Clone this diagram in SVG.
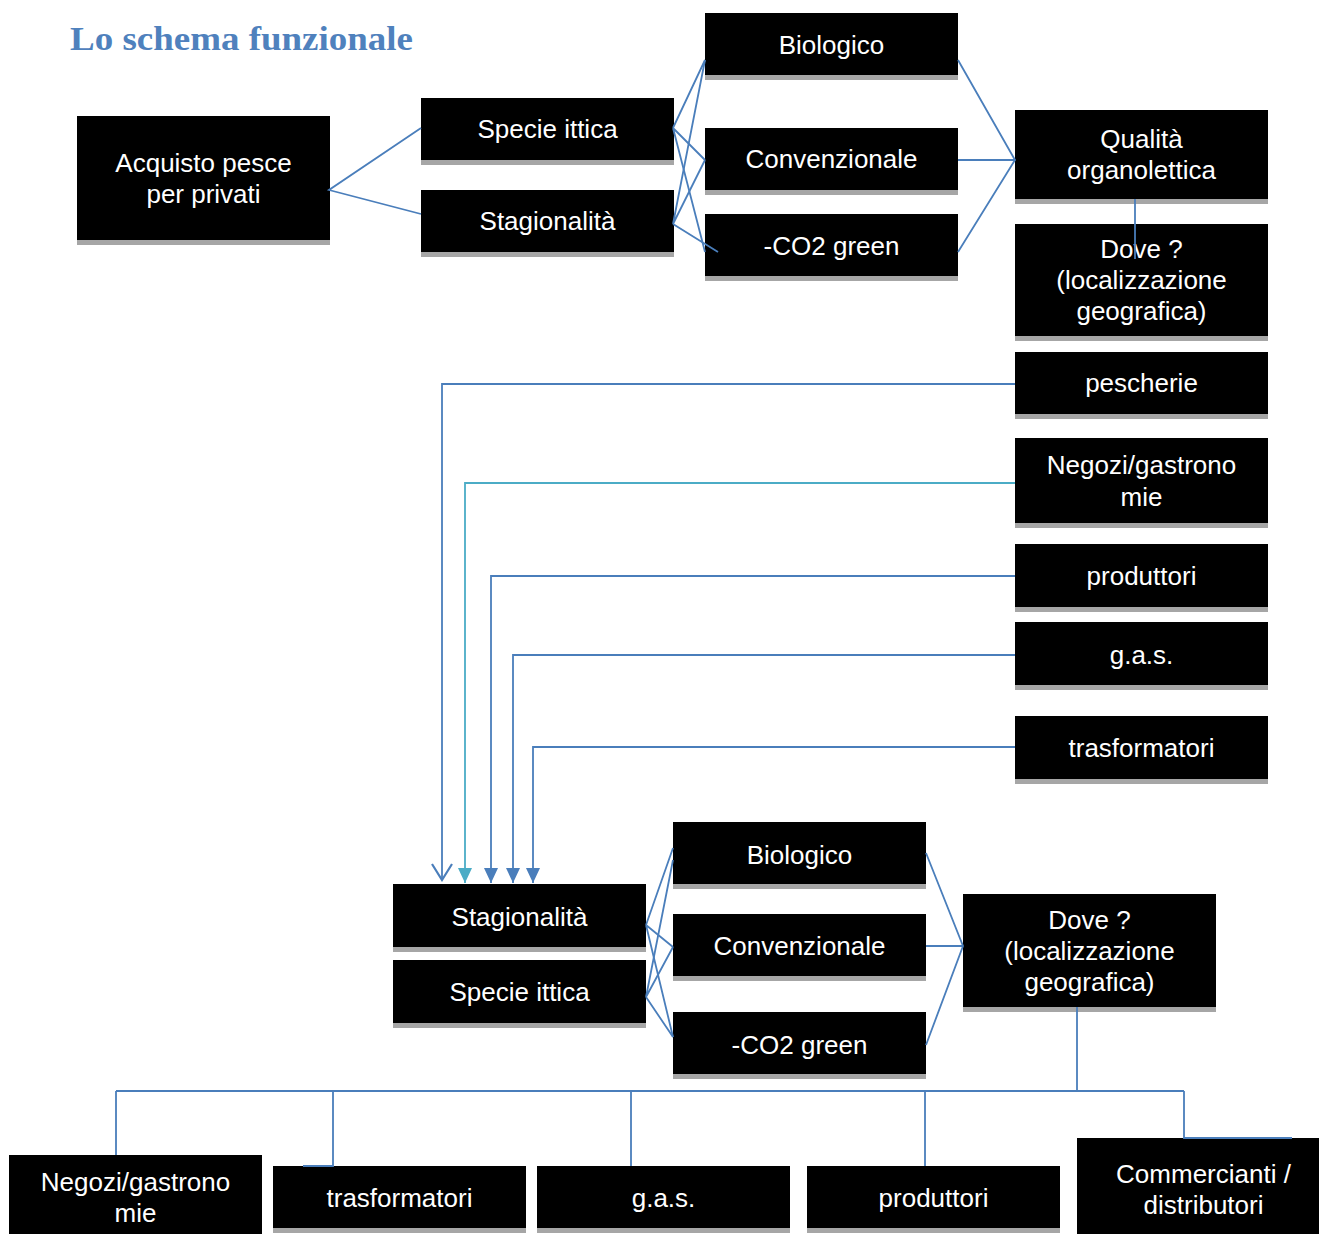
<svg xmlns="http://www.w3.org/2000/svg" width="1319" height="1234" viewBox="0 0 1319 1234">
<style>
.box{fill:#000}
.sh{fill:#A6A6A6}
.t{font-family:"Liberation Sans",Arial,sans-serif;font-size:26px;fill:#fff;text-anchor:middle}
.c{fill:none;stroke:#4A7EBB;stroke-width:1.8}
.ct{fill:none;stroke:#4BACC6;stroke-width:1.8}
.title{font-family:"Liberation Serif","Times New Roman",serif;font-weight:bold;font-size:34px;fill:#4F81BD}
</style>
<defs>
<marker id="tri" markerUnits="userSpaceOnUse" markerWidth="16" markerHeight="16" refX="15" refY="7" orient="auto" viewBox="0 0 16 14">
<path d="M0,0 L15,7 L0,14 z" fill="#4A7EBB"/>
</marker>
<marker id="triT" markerUnits="userSpaceOnUse" markerWidth="16" markerHeight="16" refX="15" refY="7" orient="auto" viewBox="0 0 16 14">
<path d="M0,0 L15,7 L0,14 z" fill="#4BACC6"/>
</marker>
<marker id="vee" markerUnits="userSpaceOnUse" markerWidth="20" markerHeight="24" refX="18" refY="11" orient="auto" viewBox="0 0 20 22">
<path d="M2,1 L18,11 L2,21" fill="none" stroke="#4A7EBB" stroke-width="2.2"/>
</marker>
</defs>
<rect width="1319" height="1234" fill="#fff"/>
<text class="title" x="70" y="50" textLength="343" lengthAdjust="spacingAndGlyphs">Lo schema funzionale</text>

<g id="n_acquisto"><rect class="sh" x="77" y="235" width="253" height="10"/><rect class="box" x="77" y="116" width="253" height="124"/><text class="t" x="203.5" y="172">Acquisto pesce</text><text class="t" x="203.5" y="203">per privati</text></g>
<g id="n_specie1"><rect class="sh" x="421" y="155" width="253" height="10"/><rect class="box" x="421" y="98" width="253" height="62"/><text class="t" x="547.5" y="138">Specie ittica</text></g>
<g id="n_stag1"><rect class="sh" x="421" y="247" width="253" height="10"/><rect class="box" x="421" y="190" width="253" height="62"/><text class="t" x="547.5" y="230">Stagionalità</text></g>
<g id="n_bio1"><rect class="sh" x="705" y="70" width="253" height="10"/><rect class="box" x="705" y="13" width="253" height="62"/><text class="t" x="831.5" y="54">Biologico</text></g>
<g id="n_conv1"><rect class="sh" x="705" y="185" width="253" height="10"/><rect class="box" x="705" y="128" width="253" height="62"/><text class="t" x="831.5" y="168">Convenzionale</text></g>
<g id="n_co2_1"><rect class="sh" x="705" y="271" width="253" height="10"/><rect class="box" x="705" y="214" width="253" height="62"/><text class="t" x="831.5" y="255">-CO2 green</text></g>
<g id="n_qual"><rect class="sh" x="1015" y="194" width="253" height="10"/><rect class="box" x="1015" y="110" width="253" height="89"/><text class="t" x="1141.5" y="148">Qualità</text><text class="t" x="1141.5" y="179">organolettica</text></g>
<g id="n_dove1"><rect class="sh" x="1015" y="331" width="253" height="10"/><rect class="box" x="1015" y="224" width="253" height="112"/><text class="t" x="1141.5" y="258">Dove ?</text><text class="t" x="1141.5" y="289">(localizzazione</text><text class="t" x="1141.5" y="320">geografica)</text></g>
<g id="n_pescherie"><rect class="sh" x="1015" y="409" width="253" height="10"/><rect class="box" x="1015" y="352" width="253" height="62"/><text class="t" x="1141.5" y="392">pescherie</text></g>
<g id="n_negozi1"><rect class="sh" x="1015" y="518" width="253" height="10"/><rect class="box" x="1015" y="438" width="253" height="85"/><text class="t" x="1141.5" y="474">Negozi/gastrono</text><text class="t" x="1141.5" y="506">mie</text></g>
<g id="n_prod1"><rect class="sh" x="1015" y="602" width="253" height="10"/><rect class="box" x="1015" y="544" width="253" height="63"/><text class="t" x="1141.5" y="585">produttori</text></g>
<g id="n_gas1"><rect class="sh" x="1015" y="680" width="253" height="10"/><rect class="box" x="1015" y="622" width="253" height="63"/><text class="t" x="1141.5" y="664">g.a.s.</text></g>
<g id="n_trasf1"><rect class="sh" x="1015" y="774" width="253" height="10"/><rect class="box" x="1015" y="716" width="253" height="63"/><text class="t" x="1141.5" y="757">trasformatori</text></g>

<g id="n_stag2"><rect class="sh" x="393" y="942" width="253" height="10"/><rect class="box" x="393" y="884" width="253" height="63"/><text class="t" x="519.5" y="926">Stagionalità</text></g>
<g id="n_specie2"><rect class="sh" x="393" y="1018" width="253" height="10"/><rect class="box" x="393" y="960" width="253" height="63"/><text class="t" x="519.5" y="1001">Specie ittica</text></g>
<g id="n_bio2"><rect class="sh" x="673" y="879" width="253" height="10"/><rect class="box" x="673" y="822" width="253" height="62"/><text class="t" x="799.5" y="864">Biologico</text></g>
<g id="n_conv2"><rect class="sh" x="673" y="971" width="253" height="10"/><rect class="box" x="673" y="914" width="253" height="62"/><text class="t" x="799.5" y="955">Convenzionale</text></g>
<g id="n_co2_2"><rect class="sh" x="673" y="1069" width="253" height="10"/><rect class="box" x="673" y="1012" width="253" height="62"/><text class="t" x="799.5" y="1054">-CO2 green</text></g>
<g id="n_dove2"><rect class="sh" x="963" y="1002" width="253" height="10"/><rect class="box" x="963" y="894" width="253" height="113"/><text class="t" x="1089.5" y="929">Dove ?</text><text class="t" x="1089.5" y="960">(localizzazione</text><text class="t" x="1089.5" y="991">geografica)</text></g>
<g id="n_negozi2"><rect class="box" x="9" y="1155" width="253" height="85"/><text class="t" x="135.5" y="1191">Negozi/gastrono</text><text class="t" x="135.5" y="1222">mie</text></g>
<g id="n_trasf2"><rect class="sh" x="273" y="1223" width="253" height="10"/><rect class="box" x="273" y="1166" width="253" height="62"/><text class="t" x="399.5" y="1207">trasformatori</text></g>
<g id="n_gas2"><rect class="sh" x="537" y="1223" width="253" height="10"/><rect class="box" x="537" y="1166" width="253" height="62"/><text class="t" x="663.5" y="1207">g.a.s.</text></g>
<g id="n_prod2"><rect class="sh" x="807" y="1223" width="253" height="10"/><rect class="box" x="807" y="1166" width="253" height="62"/><text class="t" x="933.5" y="1207">produttori</text></g>
<g id="n_comm"><rect class="box" x="1077" y="1138" width="253" height="100"/><text class="t" x="1203.5" y="1183">Commercianti /</text><text class="t" x="1203.5" y="1214">distributori</text></g>

<g id="connectors">
<path class="c" d="M421,128 L329,190 L421,214"/>
<path class="c" d="M673,128 L705,60 M673,128 L705,160 M673,128 L705,252"/>
<path class="c" d="M673,224 L705,60 M673,224 L705,160 M673,224 L718,252"/>
<path class="c" d="M958,60 L1015,160 L958,252 M958,160 L1015,160"/>
<path class="c" d="M1135,199 V259"/>
<path class="c" d="M1015,384 H442 V880" marker-end="url(#vee)"/>
<path class="ct" d="M1015,483 H465 V883" marker-end="url(#triT)"/>
<path class="c" d="M1015,576 H491 V883" marker-end="url(#tri)"/>
<path class="c" d="M1015,655 H513 V883" marker-end="url(#tri)"/>
<path class="c" d="M1015,747 H533 V883" marker-end="url(#tri)"/>
<path class="c" d="M646,925 L673,848 M646,925 L673,947 M646,925 L673,1037"/>
<path class="c" d="M646,997 L673,860 M646,997 L673,947 M646,997 L673,1037"/>
<path class="c" d="M926,853 L963,946 L926,1045 M926,946 L963,946"/>
<path class="c" d="M1077,1007 V1091 M116,1091 H1184 M116,1091 V1155 M333,1091 V1166 H303 M631,1091 V1166 M925,1091 V1166 M1184,1091 V1138 H1292"/>
</g>
</svg>
